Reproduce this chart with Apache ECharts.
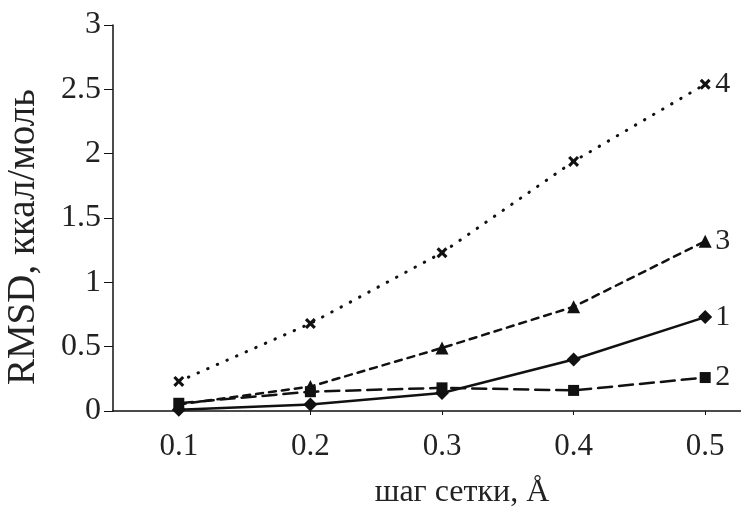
<!DOCTYPE html>
<html>
<head>
<meta charset="utf-8">
<script src="https://cdn.jsdelivr.net/npm/echarts@6/dist/echarts.min.js"></script>
<style>
  html, body { margin: 0; padding: 0; background: #fff; }
  #chart { width: 741px; height: 508px; }
</style>
</head>
<body>
<div id="chart"></div>
<script>
// === Data === //
const steps = ['0.1', '0.2', '0.3', '0.4', '0.5']
const rmsd1 = [0.01, 0.05, 0.14, 0.40, 0.73]
const rmsd2 = [0.06, 0.15, 0.18, 0.16, 0.26]
const rmsd3 = [0.05, 0.19, 0.49, 0.81, 1.32]
const rmsd4 = [0.23, 0.68, 1.23, 1.94, 2.54]

const font = 'Liberation Serif'
// thick "x" marker
const crossPath = 'path://M0,2 L2,0 L5,3 L8,0 L10,2 L7,5 L10,8 L8,10 L5,7 L2,10 L0,8 L3,5 Z'

const makeSeries = (name, data, symbol, size, lineType, width) => ({
  name,
  type: 'line',
  data,
  symbol,
  symbolSize: size,
  color: '#111',
  lineStyle: { color: '#111', width: width, type: lineType, cap: 'round' },
  itemStyle: { color: '#111' },
  endLabel: {
    show: true,
    formatter: '{a}',
    fontFamily: font,
    fontSize: 30,
    color: '#222',
    distance: 10
  },
  silent: true,
  animation: false
})

const chart = echarts.init(document.getElementById('chart'))
chart.setOption({
  backgroundColor: '#fff',
  grid: { left: 113, top: 25, height: 386, width: 658, outerBoundsMode: 'none', containLabel: false },
  xAxis: {
    type: 'category',
    data: steps,
    boundaryGap: true,
    name: 'шаг сетки, Å',
    nameLocation: 'middle',
    nameGap: 66,
    nameTextStyle: { fontFamily: font, fontSize: 32, color: '#222', padding: [0, 0, 0, 40] },
    axisLine: { lineStyle: { color: '#111', width: 1.5 } },
    axisTick: { show: true, alignWithLabel: true, length: 4, lineStyle: { color: '#111' } },
    axisLabel: { fontFamily: font, fontSize: 31, color: '#222', margin: 20 },
    splitLine: { show: false }
  },
  yAxis: {
    type: 'value',
    min: 0,
    max: 3,
    interval: 0.5,
    name: 'RMSD, ккал/моль',
    nameLocation: 'middle',
    nameGap: 70,
    nameRotate: 90,
    nameTextStyle: { fontFamily: font, fontSize: 39, color: '#222', padding: [0, 38, 0, 0] },
    axisLine: { show: true, lineStyle: { color: '#111', width: 1.5 } },
    axisTick: { show: true, length: 9, lineStyle: { color: '#111' } },
    axisLabel: { fontFamily: font, fontSize: 32, color: '#222', margin: 12 },
    splitLine: { show: false }
  },
  series: [
    makeSeries('1', rmsd1, 'diamond', 14, 'solid', 2.5),
    makeSeries('2', rmsd2, 'rect', 11, [14, 7], 2.5),
    makeSeries('3', rmsd3, 'triangle', 13, [7, 6], 2.5),
    makeSeries('4', rmsd4, crossPath, 11, [0.5, 10], 3)
  ]
})
</script>
</body>
</html>
